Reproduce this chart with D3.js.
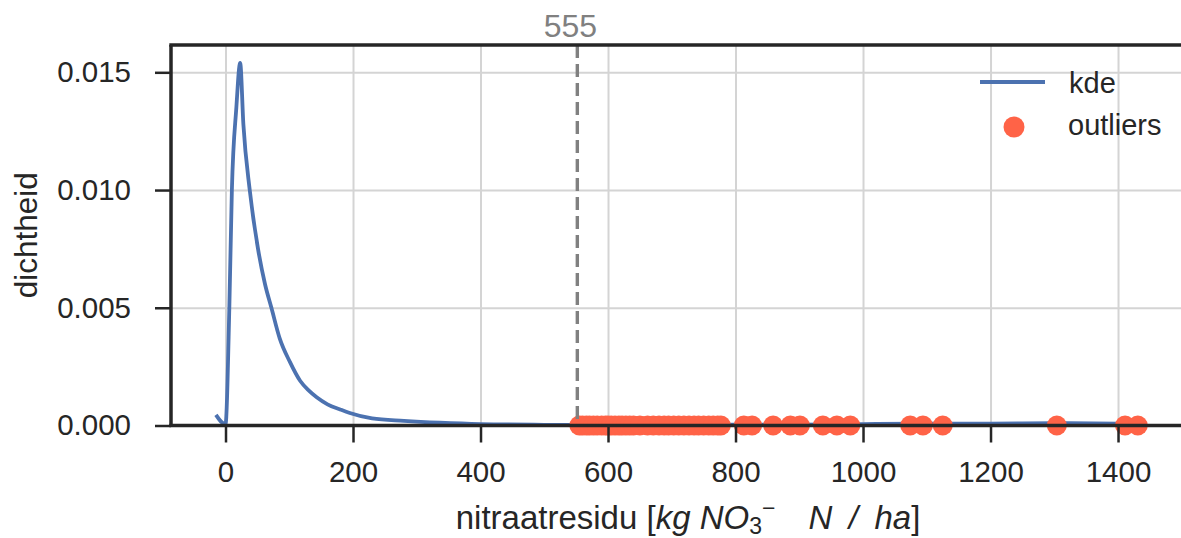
<!DOCTYPE html>
<html>
<head>
<meta charset="utf-8">
<style>
body { margin: 0; background: #fff; }
text { font-family: "Liberation Sans", Arial, sans-serif; fill: #262626; }
.grid line { stroke: #d4d4d4; stroke-width: 2; }
.grid path { display: none; }
.axis path { display: none; }
.axis line { stroke: #262626; stroke-width: 2.5; }
.axis text { font-size: 29.5px; font-family: "Liberation Sans", Arial, sans-serif; }
</style>
</head>
<body>
<svg width="1181" height="538"></svg>
<script src="https://d3js.org/d3.v7.min.js"></script>
<script>

// kde curve
var kdeX = [-15, 0, 6, 10, 17, 23, 28, 38, 51, 62, 72, 85, 101, 117, 130, 143, 160, 180, 195, 230, 280, 336, 400, 500, 600, 700, 800, 900, 1000, 1100, 1200, 1300, 1400, 1440];
var kdeY = [0.00045, 0.00005, 0.005, 0.010, 0.0135, 0.0154, 0.0128, 0.0100, 0.0075, 0.0060, 0.0050, 0.0037, 0.0027, 0.0019, 0.0015, 0.0012, 0.0009, 0.00068, 0.00053, 0.0003, 0.0002, 0.00012, 0.00006, 0.00003, 0.00002, 0.00003, 0.00004, 0.00004, 0.00006, 0.00008, 0.00008, 0.0001, 0.00008, 0.00005];

// outlier values (all plotted at density 0)
var outliers = [555, 560, 566, 571, 577, 583, 590, 596, 600, 605, 611, 617, 622, 628, 634, 640, 650, 662, 671, 680, 688, 695, 703, 711, 719, 727, 735, 742, 750, 758, 765, 772, 777,
                813, 826, 859, 886, 901, 937, 959, 980, 1074, 1094, 1125, 1304, 1411, 1431];

var threshold = 555;
var xTicks = [0, 200, 400, 600, 800, 1000, 1200, 1400];
var yTicks = [0, 0.005, 0.010, 0.015];

var svg = d3.select("svg"),
    mLeft = 171, mTop = 45, mRight = 1209, mBottom = 425.5;

var x = d3.scaleLinear().domain([-85.5, 1542.7]).range([mLeft, mRight]);
var y = d3.scaleLinear().domain([0, 0.01616]).range([mBottom, mTop]);

// grid
svg.append("g")
    .attr("class", "grid")
    .attr("transform", "translate(0," + mBottom + ")")
    .call(d3.axisBottom(x).tickValues(xTicks).tickSize(-(mBottom - mTop)).tickFormat(""));
svg.append("g")
    .attr("class", "grid")
    .attr("transform", "translate(" + mLeft + ",0)")
    .call(d3.axisLeft(y).tickValues(yTicks).tickSize(-(mRight - mLeft)).tickFormat(""));

// kde line
var line = d3.line()
    .x(function(d, i) { return x(kdeX[i]); })
    .y(function(d) { return y(d); })
    .curve(d3.curveMonotoneX);

svg.append("path")
    .datum(kdeY)
    .attr("fill", "none")
    .attr("stroke", "#4c72b0")
    .attr("stroke-width", 3.8)
    .attr("stroke-linejoin", "round")
    .attr("d", line);

// outliers
svg.append("g").selectAll("circle")
    .data(outliers)
    .enter().append("circle")
      .attr("cx", function(d) { return x(d); })
      .attr("cy", y(0))
      .attr("r", 10)
      .attr("fill", "#ff6347");

// threshold line
svg.append("line")
    .attr("x1", x(threshold) - 2).attr("x2", x(threshold) - 2)
    .attr("y1", mTop).attr("y2", mBottom)
    .attr("stroke", "#808080")
    .attr("stroke-width", 3.4)
    .attr("stroke-dasharray", "13,6");

svg.append("text")
    .attr("x", x(threshold) - 9)
    .attr("y", 37)
    .attr("text-anchor", "middle")
    .style("font-size", "32px")
    .style("fill", "#808080")
    .text(threshold);

// axes
svg.append("g")
    .attr("class", "axis")
    .attr("transform", "translate(0," + mBottom + ")")
    .call(d3.axisBottom(x).tickValues(xTicks).tickSize(17).tickPadding(19).tickFormat(d3.format("d")));
svg.append("g")
    .attr("class", "axis")
    .attr("transform", "translate(" + mLeft + ",0)")
    .call(d3.axisLeft(y).tickValues(yTicks).tickSize(16).tickPadding(24).tickFormat(d3.format(".3f")));

// spines
svg.append("line").attr("x1", mLeft).attr("x2", mLeft).attr("y1", mTop).attr("y2", mBottom)
    .attr("stroke", "#262626").attr("stroke-width", 3.5);
svg.append("line").attr("x1", mLeft - 1.7).attr("x2", 1181).attr("y1", mTop).attr("y2", mTop)
    .attr("stroke", "#262626").attr("stroke-width", 3.5);
svg.append("line").attr("x1", mLeft - 1.7).attr("x2", 1181).attr("y1", mBottom).attr("y2", mBottom)
    .attr("stroke", "#262626").attr("stroke-width", 3.5);

// axis labels
svg.append("text")
    .attr("transform", "translate(37," + ((mTop + mBottom) / 2) + ") rotate(-90)")
    .attr("text-anchor", "middle")
    .style("font-size", "31.5px")
    .text("dichtheid");

var xl = svg.append("text")
    .attr("x", 688)
    .attr("y", 529)
    .attr("text-anchor", "middle")
    .style("font-size", "33px");
xl.append("tspan").text("nitraatresidu [");
xl.append("tspan").style("font-style", "italic").text("kg NO");
xl.append("tspan").attr("dy", 5).style("font-size", "23px").text("3");
xl.append("tspan").attr("dy", -18).style("font-size", "23px").text("\u2212");
xl.append("tspan").attr("dy", 13).style("font-style", "italic").text("\u2003N\u2002/\u2002ha");
xl.append("tspan").text("]");

// legend
var lg = svg.append("g");
lg.append("line").attr("x1", 980).attr("x2", 1045).attr("y1", 82).attr("y2", 82)
    .attr("stroke", "#4c72b0").attr("stroke-width", 3.8);
lg.append("text").attr("x", 1069).attr("y", 93).style("font-size", "29px").text("kde");
lg.append("circle").attr("cx", 1014).attr("cy", 127).attr("r", 10.5).attr("fill", "#ff6347");
lg.append("text").attr("x", 1068).attr("y", 135).style("font-size", "29px").text("outliers");

</script>
</body>
</html>
